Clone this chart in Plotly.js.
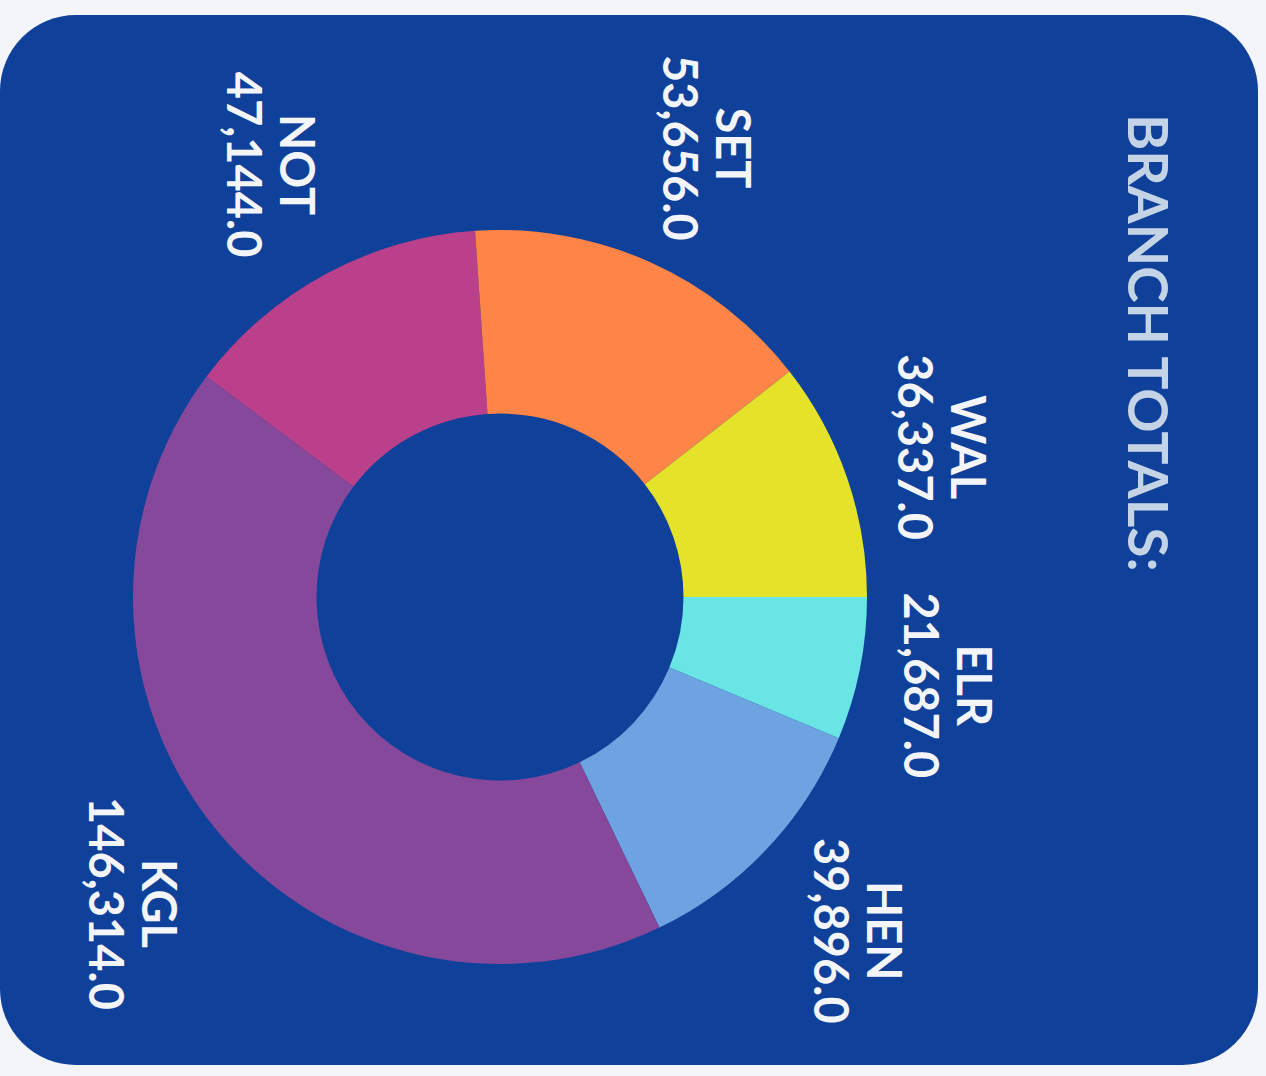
<!DOCTYPE html>
<html>
<head>
<meta charset="utf-8">
<script src="https://cdn.plot.ly/plotly-3.0.1.min.js"></script>
<style>
  html, body { margin: 0; padding: 0; background: #f4f5fa; width: 1266px; height: 1076px; overflow: hidden; }
  #card { position: absolute; left: 0px; top: 15px; width: 1258px; height: 1050px; background: #0f419a; border-radius: 76px; overflow: hidden; }
  #chart { position: absolute; width: 1300px; height: 1400px; left: -150px; top: -118px; transform: rotate(90deg); transform-origin: 50% 50%; }
</style>
</head>
<body>
<div id="card"><div id="chart"></div></div>
<script>
const branches = ["ELR", "HEN", "KGL", "NOT", "SET", "WAL"];
const totals = [21687, 39896, 146314, 47144, 53656, 36337];
const sliceColors = ["#6ae5e6", "#6ea3e1", "#86489b", "#ba408b", "#fe8547", "#e5e22a"];
const chartTitle = "BRANCH TOTALS:";

const W = 1300, H = 1400;
const cx = 650, cy = 700;
const R = 367;          // donut outer radius (px)
const RP = 600;         // polar helper radius (px)
const labelGap = 19, labelHalfW = 95, labelHalfH = 47; // label box kept just outside the ring

// mid angle of each slice (degrees, clockwise from 12 o'clock), from the data
const grand = totals.reduce((a, b) => a + b, 0);
let run = 0;
const midAngles = totals.map(v => { const m = (run + v / 2) / grand * 360; run += v; return m; });
const labelR = midAngles.map(a => {
  const t = a * Math.PI / 180;
  return (R + labelGap + Math.abs(Math.sin(t)) * labelHalfW + Math.abs(Math.cos(t)) * labelHalfH) / R;
});

const labelFont = { family: "Lato, sans-serif", size: 47, color: "#f3f5fb", weight: "bold" };

const donut = {
  type: "pie",
  labels: branches,
  values: totals,
  hole: 0.5,
  sort: false,
  direction: "clockwise",
  rotation: 0,
  marker: { colors: sliceColors },
  textinfo: "none",
  domain: { x: [(cx - R) / W, (cx + R) / W], y: [(H - cy - R) / H, (H - cy + R) / H] },
  hoverinfo: "none"
};

const nameText = {
  type: "scatterpolar",
  mode: "markers+text",
  r: labelR,
  theta: midAngles,
  text: branches,
  texttemplate: "%{text}",
  textposition: "top center",
  textfont: labelFont,
  marker: { size: 3.2, color: "rgba(0,0,0,0)" },
  cliponaxis: false,
  hoverinfo: "none"
};

const valueText = {
  type: "scatterpolar",
  mode: "markers+text",
  r: labelR,
  theta: midAngles,
  customdata: totals,
  texttemplate: "%{customdata:,.1f}",
  textposition: "bottom center",
  textfont: labelFont,
  marker: { size: 3.2, color: "rgba(0,0,0,0)" },
  cliponaxis: false,
  hoverinfo: "none"
};

const layout = {
  width: W,
  height: H,
  margin: { l: 0, r: 0, t: 0, b: 0 },
  paper_bgcolor: "rgba(0,0,0,0)",
  plot_bgcolor: "rgba(0,0,0,0)",
  showlegend: false,
  polar: {
    domain: { x: [(cx - RP) / W, (cx + RP) / W], y: [(H - cy - RP) / H, (H - cy + RP) / H] },
    bgcolor: "rgba(0,0,0,0)",
    angularaxis: { visible: false, rotation: 90, direction: "clockwise", thetaunit: "degrees" },
    radialaxis: { visible: false, range: [0, RP / R] }
  },
  title: {
    text: chartTitle,
    x: 167 / W, xref: "container", xanchor: "left",
    y: 1 - 53 / H, yref: "container", yanchor: "middle",
    font: { family: "Lato, sans-serif", size: 55, color: "#c4d4e6", weight: "bold" }
  }
};

Plotly.newPlot("chart", [donut, nameText, valueText], layout, { staticPlot: true, displayModeBar: false });
</script>
</body>
</html>
